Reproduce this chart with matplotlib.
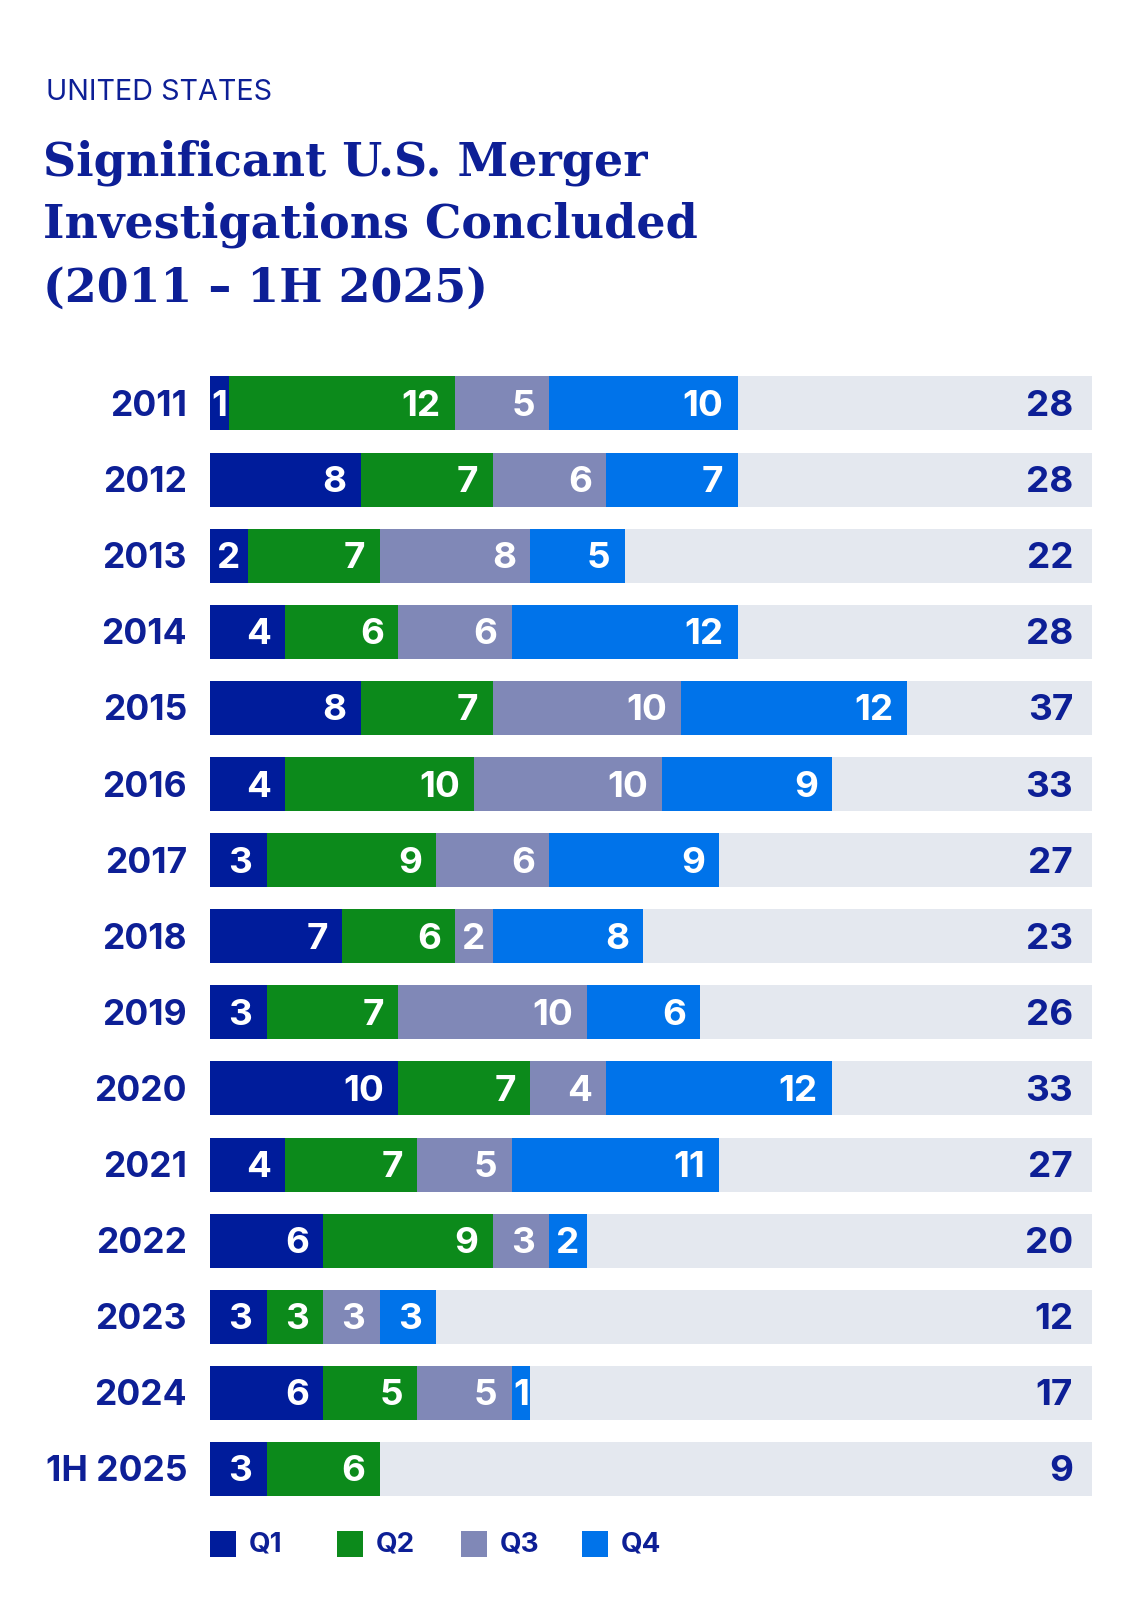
import matplotlib.pyplot as plt
from matplotlib.patches import Rectangle
from matplotlib.transforms import blended_transform_factory

# Données du graphique
annees = ["2011", "2012", "2013", "2014", "2015", "2016", "2017", "2018",
          "2019", "2020", "2021", "2022", "2023", "2024", "1H 2025"]
q1 = [1, 8, 2, 4, 8, 4, 3, 7, 3, 10, 4, 6, 3, 6, 3]
q2 = [12, 7, 7, 6, 7, 10, 9, 6, 7, 7, 7, 9, 3, 5, 6]
q3 = [5, 6, 8, 6, 10, 10, 6, 2, 10, 4, 5, 3, 3, 5, 0]
q4 = [10, 7, 5, 12, 12, 9, 9, 8, 6, 12, 11, 2, 3, 1, 0]
trimestres = ["Q1", "Q2", "Q3", "Q4"]

# Couleurs
couleurs = ["#001c9b", "#0c8a1b", "#8088b7", "#0073ea"]
gris = "#e4e8ef"
marine = "#0d1f96"

W, H = 1140, 1601
fig = plt.figure(figsize=(W / 100, H / 100), dpi=100)
fig.patch.set_facecolor("white")

# Axe principal placé en pixels
x0, x1 = 210, 1092
y_haut, y_bas = 365.4, 1507
ax = fig.add_axes([x0 / W, 1 - y_bas / H, (x1 - x0) / W, (y_bas - y_haut) / H])
xmax = 46.8
ax.set_xlim(0, xmax)
ax.set_ylim(len(annees) - 0.5, -0.5)
ax.axis("off")

rangs = list(range(len(annees)))
hauteur = 0.71
taille = 26.5
dy = 0.04  # petit décalage pour centrer visuellement les chiffres

# Fond gris
ax.barh(rangs, [xmax] * len(annees), height=hauteur, color=gris, zorder=1)

# Barres empilées
series = [q1, q2, q3, q4]
gauche = [0] * len(annees)
for serie, couleur in zip(series, couleurs):
    ax.barh(rangs, serie, left=gauche, height=hauteur, color=couleur, zorder=2)
    for i, v in enumerate(serie):
        if v == 0:
            continue
        if v <= 2:
            # petit segment : étiquette centrée
            ax.text(gauche[i] + v / 2, i + dy, str(v), ha="center",
                    va="center", color="white", fontsize=taille,
                    fontweight="bold", family="Inter", zorder=3)
        else:
            ax.text(gauche[i] + v - 0.75, i + dy, str(v), ha="right",
                    va="center", color="white", fontsize=taille,
                    fontweight="bold", family="Inter", zorder=3)
    gauche = [g + v for g, v in zip(gauche, serie)]

# Totaux à droite
for i, total in enumerate(gauche):
    ax.text(45.8, i + dy, str(total), ha="right", va="center", color=marine,
            fontsize=taille, fontweight="bold", family="Inter", zorder=3)

# Étiquettes des années
trans = blended_transform_factory(ax.transAxes, ax.transData)
for i, annee in enumerate(annees):
    ax.text(-23 / (x1 - x0), i + dy, annee, transform=trans, ha="right",
            va="center", fontsize=25.5, fontweight="bold", family="Inter",
            color=marine)

# Légende dessinée à la main
pos_legende = [210, 337, 461, 582]
for px, nom, c in zip(pos_legende, trimestres, couleurs):
    fig.add_artist(Rectangle((px / W, 1 - 1557 / H), 26 / W, 26 / H,
                             transform=fig.transFigure, color=c, lw=0))
    fig.text((px + 39) / W, 1 - 1544 / H, nom, fontsize=20, family="Inter",
             fontweight="bold", color=marine, va="center")

# Titres
fig.text(46 / W, 1 - 100 / H, "UNITED STATES", fontsize=20.7, family="Inter",
         color=marine, va="baseline")
lignes = ["Significant U.S. Merger", "Investigations Concluded",
          "(2011 – 1H 2025)"]
bases = [176, 238, 302]
for ligne, b in zip(lignes, bases):
    fig.text(43 / W, 1 - b / H, ligne, fontsize=33,
             family="DejaVu Serif", fontweight="bold", color=marine,
             va="baseline")

fig.savefig("out.png", dpi=100)
